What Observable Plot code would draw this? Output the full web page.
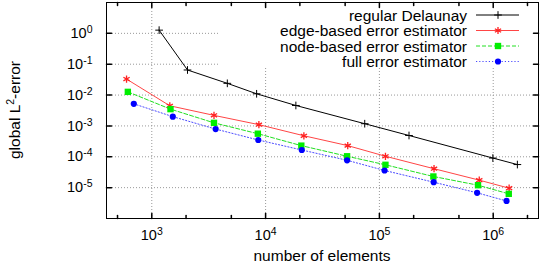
<!DOCTYPE html>
<html><head><meta charset="utf-8">
<script src="https://cdn.jsdelivr.net/npm/d3@7"></script>
<script src="https://cdn.jsdelivr.net/npm/@observablehq/plot@0.6"></script>
<style>
body{margin:0;background:#fff;}
svg{font-family:"Liberation Sans",Arial,Helvetica,sans-serif;}
</style></head><body><div id="chart"></div>
<script>
const seriesNames = ["regular Delaunay","edge-based error estimator","node-based error estimator","full error estimator"];
const delaunayN = [1160, 2060, 4610, 8340, 18450, 74300, 182000, 993000, 1630000];
const delaunayErr = [1.27, 0.065, 0.024, 0.011, 0.0046, 0.00118, 0.00049, 9.1e-5, 5.6e-5];
const edgeN = [600, 1440, 3520, 8730, 21700, 52700, 113000, 302000, 754000, 1380000];
const edgeErr = [0.033, 0.0045, 0.0022, 0.0011, 0.00048, 0.00023, 1.04e-4, 4.1e-5, 1.75e-5, 9.6e-6];
const nodeN = [616, 1460, 3520, 8550, 20600, 52000, 113000, 298000, 735000, 1370000];
const nodeErr = [0.0127, 0.0035, 0.00126, 0.00056, 0.00023, 1.04e-4, 5.5e-5, 2.3e-5, 1.2e-5, 6.3e-6];
const fullN = [695, 1530, 3640, 8620, 20800, 52000, 111000, 300000, 722000, 1310000];
const fullErr = [0.0052, 0.0020, 0.00079, 0.00035, 0.000166, 7.7e-5, 3.6e-5, 1.5e-5, 6.8e-6, 3.7e-6];
const xMajor = [1e3, 1e4, 1e5, 1e6];
const xMinor = [500, 2e3, 5e3, 2e4, 5e4, 2e5, 5e5, 2e6];
const yMajor = [1e-5, 1e-4, 1e-3, 1e-2, 1e-1, 1e0];
const xLabel = "number of elements";
const yLabelParts = ["global L", "2", "-error"];

const W = 540, H = 264;
const styles = [
  {stroke: "#000000", dash: null, symbol: "plus", fill: "none", mstroke: "#000000", r: 2.6, sw: 1},
  {stroke: "#ff4545", dash: null, symbol: "asterisk", fill: "none", mstroke: "#ff2020", r: 3.4, sw: 1.3},
  {stroke: "#22e022", dash: "4,2", symbol: "square", fill: "#00ee00", mstroke: "none", r: 3.6, sw: 1},
  {stroke: "#4a4aff", dash: "1.2,2", symbol: "circle", fill: "#0000ff", mstroke: "none", r: 3.1, sw: 1}
];
const rows = (name, xs, ys) => xs.map((x, i) => ({series: name, n: x, err: ys[i]}));
const data = [
  rows(seriesNames[0], delaunayN, delaunayErr),
  rows(seriesNames[1], edgeN, edgeErr),
  rows(seriesNames[2], nodeN, nodeErr),
  rows(seriesNames[3], fullN, fullErr)
];

const tickShape = {draw(ctx, l) { ctx.moveTo(0, 0); ctx.lineTo(0, -l); }};
const tickMarks = (vals, len) => [
  Plot.vector(vals, {x: d => d, frameAnchor: "bottom", rotate: 0, length: len, anchor: "start", shape: tickShape, stroke: "#000", ariaLabel: "ticks"}),
  Plot.vector(vals, {x: d => d, frameAnchor: "top", rotate: 180, length: len, anchor: "start", shape: tickShape, stroke: "#000", ariaLabel: "ticks"})
];
const yTickMarks = (vals, len) => [
  Plot.vector(vals, {y: d => d, frameAnchor: "left", rotate: 90, length: len, anchor: "start", shape: tickShape, stroke: "#000", ariaLabel: "ticks"}),
  Plot.vector(vals, {y: d => d, frameAnchor: "right", rotate: -90, length: len, anchor: "start", shape: tickShape, stroke: "#000", ariaLabel: "ticks"})
];
const expFmt = d => String(Math.round(Math.log10(d)));

const marks = [
  Plot.ruleX(xMajor, {stroke: "#999", strokeDasharray: "1,2", strokeWidth: 1, ariaLabel: "grid"}),
  Plot.ruleY(yMajor, {stroke: "#999", strokeDasharray: "1,2", strokeWidth: 1, ariaLabel: "grid"}),
  Plot.frame({stroke: "#000", ariaLabel: "frame"}),
  ...tickMarks(xMajor, 5), ...tickMarks(xMinor, 3),
  ...yTickMarks(yMajor, 5),
];
data.forEach((rs, i) => {
  const s = styles[i];
  marks.push(Plot.line(rs, {x: "n", y: "err", stroke: s.stroke, strokeWidth: 1, strokeDasharray: s.dash}));
});
data.forEach((rs, i) => {
  const s = styles[i];
  marks.push(Plot.dot(rs, {x: "n", y: "err", symbol: () => s.symbol, r: s.r, fill: s.fill, stroke: s.mstroke, strokeWidth: s.sw}));
});
marks.push(Plot.axisX(xMajor, {tickSize: 0, tickPadding: 11, tickFormat: expFmt, fontSize: 14.5, label: null}));
marks.push(Plot.axisY(yMajor, {tickSize: 0, tickPadding: 14, tickFormat: expFmt, fontSize: 14.5, label: null}));

const chart = Plot.plot({
  width: W, height: H,
  marginLeft: 106, marginRight: 2, marginTop: 2, marginBottom: 46,
  x: {type: "log", domain: [400, 2.5e6]},
  y: {type: "log", domain: [1e-6, 10]},
  symbol: {type: "identity"},
  style: {background: "#fff", color: "#000", fontFamily: "'Liberation Sans', Arial, sans-serif"},
  marks
});
document.getElementById("chart").appendChild(chart);

const svg = d3.select(chart);
// superscript tick labels
svg.selectAll("g[aria-label='x-axis tick label'] text, g[aria-label='y-axis tick label'] text").each(function() {
  const t = d3.select(this);
  const e = t.text();
  t.text("10");
  t.append("tspan").attr("dy", "-5").attr("font-size", 10.5).text(e);
});

// legend background (hides grid behind the key)
const frameNode = chart.querySelector("[aria-label='frame']");
const bg = document.createElementNS("http://www.w3.org/2000/svg", "rect");
bg.setAttribute("x", 220); bg.setAttribute("y", 3); bg.setAttribute("width", 316); bg.setAttribute("height", 65);
bg.setAttribute("fill", "#fff");
frameNode.parentNode.insertBefore(bg, frameNode);

// axis titles
const yl = svg.append("text").attr("transform", "translate(20,110) rotate(-90)")
  .attr("text-anchor", "middle").attr("font-size", 15.5).attr("fill", "#000");
yl.append("tspan").text(yLabelParts[0]);
yl.append("tspan").attr("dy", -6).attr("font-size", 10.5).text(yLabelParts[1]);
yl.append("tspan").attr("dy", 6).text(yLabelParts[2]);
svg.append("text").attr("x", 322).attr("y", 261).attr("text-anchor", "middle")
  .attr("font-size", 15.5).attr("fill", "#000").text(xLabel);

// legend
const lg = svg.append("g");
seriesNames.forEach((name, i) => {
  const s = styles[i];
  const cy = 15 + i * 15.5;
  lg.append("text").attr("x", 467).attr("y", cy + 5.5).attr("text-anchor", "end")
    .attr("font-size", 15.5).attr("fill", "#000").text(name);
  lg.append("line").attr("x1", 476).attr("x2", 519).attr("y1", cy).attr("y2", cy)
    .attr("stroke", s.stroke).attr("stroke-dasharray", s.dash);
  const symType = {plus: d3.symbolPlus, asterisk: d3.symbolAsterisk, square: d3.symbolSquare, circle: d3.symbolCircle}[s.symbol];
  lg.append("path").attr("transform", `translate(498,${cy})`)
    .attr("d", d3.symbol(symType, s.r * s.r * Math.PI)())
    .attr("fill", s.fill).attr("stroke", s.mstroke).attr("stroke-width", s.sw);
});
</script>
</body></html>
